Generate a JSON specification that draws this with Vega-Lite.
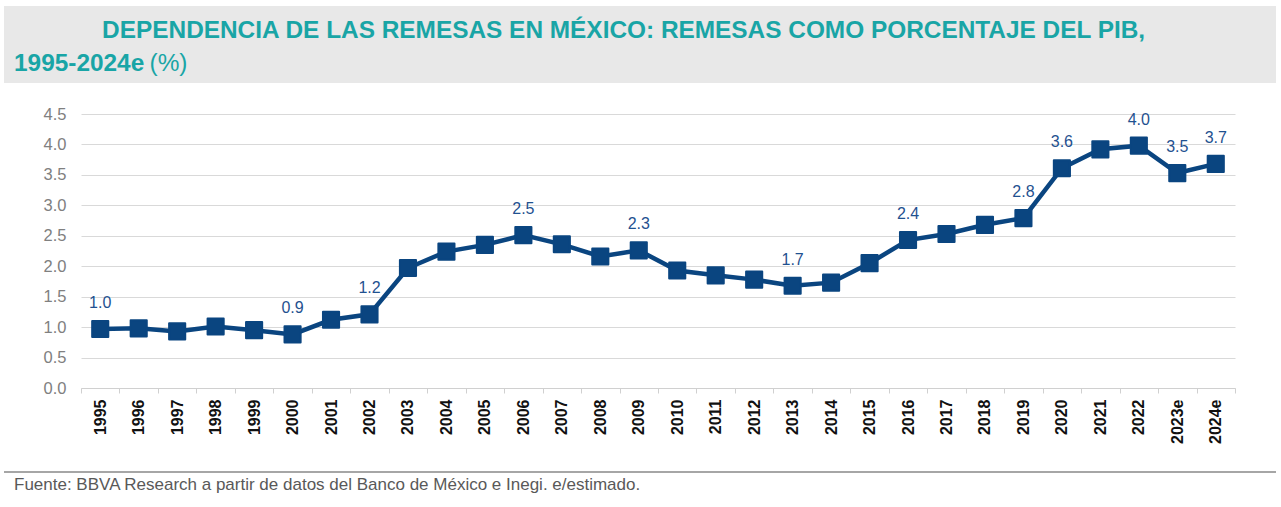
{
  "$schema": "https://vega.github.io/schema/vega-lite/v6.json",
  "background": "white",
  "padding": {"left": 4, "top": 6, "right": 0, "bottom": 0},
  "config": {"view": {"stroke": null}, "font": "Liberation Sans"},
  "spacing": 23,
  "vconcat": [
    {
      "data": {"values": []},
      "mark": "point",
      "width": 1272,
      "height": 77,
      "view": {"fill": "#e8e8e8", "stroke": null},
      "title": {
        "text": ["\u200b\u00a0\u00a0\u00a0\u00a0\u00a0\u00a0\u00a0\u00a0\u00a0\u00a0\u00a0\u00a0\u00a0DEPENDENCIA DE LAS REMESAS EN MÉXICO: REMESAS COMO PORCENTAJE DEL PIB,", "1995-2024e"],
        "subtitle": "\u200b\u00a0\u00a0\u00a0\u00a0\u00a0\u00a0\u00a0\u00a0\u00a0\u00a0\u00a0\u00a0\u00a0\u00a0\u00a0\u00a0\u00a0\u00a0\u00a0\u00a0(%)",
        "anchor": "start",
        "frame": "group",
        "orient": "top",
        "offset": -70,
        "dx": 10,
        "font": "Liberation Sans",
        "fontSize": 24.4,
        "fontWeight": "bold",
        "color": "#19a5a6",
        "lineHeight": 33,
        "subtitleFont": "Liberation Sans",
        "subtitleFontSize": 24.4,
        "subtitleFontWeight": "normal",
        "subtitleColor": "#19a5a6",
        "subtitlePadding": -24.4
      }
    },
    {
      "spacing": 0,
      "hconcat": [
        {
          "data": {"values": []},
          "mark": "point",
          "width": 1,
          "height": 1
        },
        {
          "width": 1154,
          "height": 274,
          "data": {
            "values": [
              {"year": "1995", "value": 0.97, "label": true},
              {"year": "1996", "value": 0.98, "label": false},
              {"year": "1997", "value": 0.93, "label": false},
              {"year": "1998", "value": 1.01, "label": false},
              {"year": "1999", "value": 0.95, "label": false},
              {"year": "2000", "value": 0.88, "label": true},
              {"year": "2001", "value": 1.12, "label": false},
              {"year": "2002", "value": 1.21, "label": true},
              {"year": "2003", "value": 1.97, "label": false},
              {"year": "2004", "value": 2.24, "label": false},
              {"year": "2005", "value": 2.35, "label": false},
              {"year": "2006", "value": 2.51, "label": true},
              {"year": "2007", "value": 2.36, "label": false},
              {"year": "2008", "value": 2.16, "label": false},
              {"year": "2009", "value": 2.26, "label": true},
              {"year": "2010", "value": 1.93, "label": false},
              {"year": "2011", "value": 1.85, "label": false},
              {"year": "2012", "value": 1.78, "label": false},
              {"year": "2013", "value": 1.68, "label": true},
              {"year": "2014", "value": 1.73, "label": false},
              {"year": "2015", "value": 2.05, "label": false},
              {"year": "2016", "value": 2.43, "label": true},
              {"year": "2017", "value": 2.53, "label": false},
              {"year": "2018", "value": 2.68, "label": false},
              {"year": "2019", "value": 2.79, "label": true},
              {"year": "2020", "value": 3.61, "label": true},
              {"year": "2021", "value": 3.92, "label": false},
              {"year": "2022", "value": 3.98, "label": true},
              {"year": "2023e", "value": 3.53, "label": true},
              {"year": "2024e", "value": 3.68, "label": true}
            ]
          },
          "encoding": {
            "x": {
              "field": "year",
              "type": "nominal",
              "sort": null,
              "scale": {"type": "band", "paddingInner": 0, "paddingOuter": 0},
              "axis": {
                "title": null,
                "labelAngle": -90,
                "labelFontSize": 16,
                "labelFontWeight": "bold",
                "labelColor": "#111111",
                "labelPadding": 6,
                "tickBand": "extent",
                "tickSize": 5,
                "tickColor": "#d0d0d0",
                "domainColor": "#d0d0d0",
                "grid": false,
                "minExtent": 60,
                "maxExtent": 60
              }
            },
            "y": {
              "field": "value",
              "type": "quantitative",
              "scale": {"domain": [0, 4.5], "nice": false},
              "axis": {
                "title": null,
                "values": [0, 0.5, 1, 1.5, 2, 2.5, 3, 3.5, 4, 4.5],
                "format": ".1f",
                "labelFontSize": 16.5,
                "labelColor": "#808080",
                "labelPadding": 15,
                "ticks": false,
                "domain": false,
                "gridColor": "#d9d9d9",
                "minExtent": 76,
                "maxExtent": 76
              }
            }
          },
          "layer": [
            {"mark": {"type": "line", "color": "#0a4580", "strokeWidth": 4.5}},
            {"mark": {"type": "point", "shape": "square", "filled": true, "size": 260, "color": "#0a4580", "stroke": "#0a4580", "strokeWidth": 2, "strokeJoin": "round", "opacity": 1}},
            {
              "transform": [{"filter": "datum.label"}],
              "mark": {"type": "text", "dy": -21, "baseline": "alphabetic", "fontSize": 16, "color": "#1f5190"},
              "encoding": {"text": {"field": "value", "type": "quantitative", "format": ".1f"}}
            }
          ]
        }
      ]
    },
    {
      "data": {"values": []},
      "mark": "point",
      "width": 1272,
      "height": 2,
      "view": {"fill": "#a6a6a6", "stroke": null},
      "title": {
        "text": "Fuente: BBVA Research a partir de datos del Banco de México e Inegi. e/estimado.",
        "orient": "bottom",
        "anchor": "start",
        "frame": "group",
        "dx": 10,
        "offset": 4,
        "font": "Liberation Sans",
        "fontSize": 17,
        "fontWeight": "normal",
        "color": "#595959"
      }
    }
  ]
}
